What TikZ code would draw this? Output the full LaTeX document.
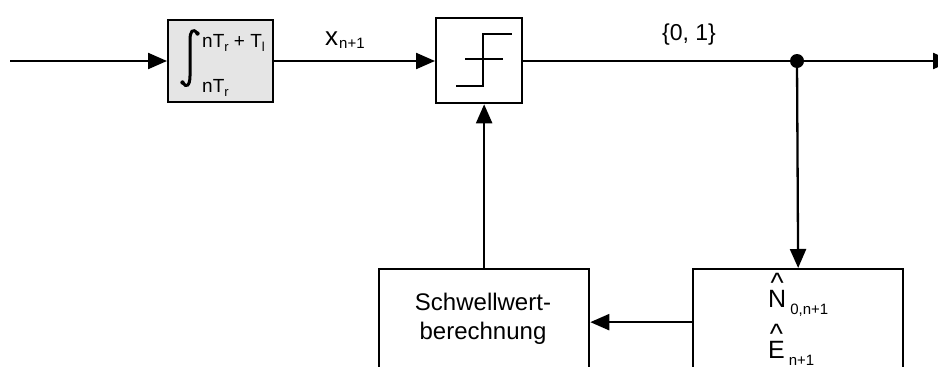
\documentclass[tikz,border=0pt]{standalone}
\usepackage{fontspec}
\setmainfont{Liberation Sans}
\usetikzlibrary{arrows.meta}
% font size helper: size and baseline skip in pt
\newcommand\fs[1]{\fontsize{#1}{#1}\selectfont}
% subscript set smaller and lowered
\newcommand\lowsub[2]{\raisebox{#1}{\fs{13}#2}}
% a letter with a caret placed above it
\newcommand\hatover[1]{\setbox0\hbox{#1}\makebox[0pt][l]{\makebox[\wd0]{\raisebox{15pt}{\fs{28}\textasciicircum}}}#1}
\tikzset{
  wire/.style={line width=2.3pt, line cap=butt},
  arr/.style={wire, -{Triangle[length=19pt,width=16pt]}},
  block/.style={draw, line width=2.3pt, inner sep=0pt, anchor=north west},
  lbl/.style={inner sep=0pt, anchor=base west},
}
\begin{document}
\begin{tikzpicture}[x=1pt, y=-1pt]
  \useasboundingbox (0,0) rectangle (938,367);

  % integrator block
  \node[block, fill=black!10, minimum width=105pt, minimum height=82pt] (int) at (167,19) {};
  % threshold (comparator) block
  \node[block, minimum width=86pt, minimum height=85pt] (thr) at (435,17) {};
  % threshold computation and estimator blocks, running past the lower edge
  \node[block, minimum width=210pt, minimum height=106pt] (sw) at (378,268) {};
  \node[block, minimum width=210pt, minimum height=106pt] (est) at (692,268) {};

  \node[align=center, inner sep=0pt, font=\fontsize{24}{29}\selectfont] (swtxt) at (483,319)
    {Schwellwert-\\berechnung};

  % signal path
  \coordinate (src) at (10,61);
  \coordinate (out) at (952,61);
  \coordinate (tap) at (797,61);
  \draw[arr] (src) -- (int.west |- src);
  \draw[arr] (int.east |- src) -- (thr.west |- src);
  \draw[arr] (thr.east |- src) -- (out);
  \fill (tap) circle (7pt);
  \draw[arr] (tap) -- (est.north);
  \draw[arr] (est.west) -- (sw.east);
  \draw[arr] (sw.north) -- (sw.north |- thr.south);

  % integral sign
  \draw[line width=3pt, line cap=round]
    (197,33) .. controls (193,28) and (190,31) .. (190,40)
    -- (190,76) .. controls (190,86) and (186,88) .. (183,83);
  \fill (197.5,33.5) circle (2.2pt);
  \fill (182.5,82.5) circle (2.2pt);
  \node[lbl, font=\fs{19}] (upper) at (202,47) {nT\lowsub{-4pt}{r} + T\lowsub{-4pt}{l}};
  \node[lbl, font=\fs{19}] (lower) at (202,92) {nT\lowsub{-4pt}{r}};

  % step characteristic
  \draw[line width=2.3pt]
    (456,86) -- (483,86) -- (483,34) -- (512,34)
    (465,59) -- (503,59);

  % signal labels
  \node[lbl, font=\fs{26}] (xlab) at (325,45) {x\kern1pt\lowsub{-3pt}{\fs{15}n+1}};
  \node[lbl, font=\fs{23}] (bits) at (662,40) {\{0, 1\}};

  % estimates
  \node[lbl, font=\fs{25}] (nhat) at (768,307)
    {\hatover{N}\kern4pt\raisebox{-7pt}{\fs{15}0,n+1}};
  \node[lbl, font=\fs{25}] (ehat) at (768,358)
    {\hatover{E}\kern4pt\raisebox{-7pt}{\fs{15}n+1}};
\end{tikzpicture}
\end{document}
